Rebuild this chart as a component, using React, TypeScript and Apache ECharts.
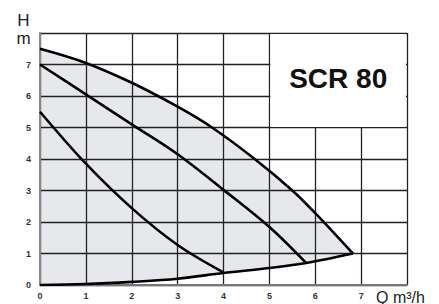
import React, { useEffect, useRef } from "react";
import * as echarts from "echarts";

// Flow Q (m³/h) sample points and heads H (m)
const topQ = [0, 1, 2, 3, 3.75, 4.68, 5.5, 6, 6.82];
const topH = [7.5, 7.05, 6.42, 5.66, 5.0, 4.0, 3.0, 2.28, 1.0];

const midQ = [0, 1, 2, 3, 4, 5, 5.8];
const midH = [7.0, 6.05, 5.1, 4.15, 3.02, 1.84, 0.7];

const lowQ = [0, 1, 2, 3, 4];
const lowH = [5.5, 3.85, 2.44, 1.27, 0.4];

const minQ = [0, 1, 2, 3, 4, 5, 5.8, 6.82];
const minH = [0, 0.03, 0.1, 0.2, 0.38, 0.54, 0.7, 1.0];

const xTicks = [0, 1, 2, 3, 4, 5, 6, 7];
const yTicks = [0, 1, 2, 3, 4, 5, 6, 7];

const title = "SCR 80";

export default function App() {
  const ref = useRef<HTMLDivElement>(null);
  useEffect(() => {
    if (!ref.current) return;
    const chart = echarts.init(ref.current, undefined, { renderer: "svg" });
    const gridLeft = 40, gridRight = 32, gridTop = 33, gridBottom = 19;
    const W = 439, H = 304;
    const pw = W - gridLeft - gridRight;
    const ph = H - gridTop - gridBottom;
    const ux = pw / 8, uy = ph / 8;
    const font = "'Liberation Sans', Arial, sans-serif";
    const pair = (xs: number[], ys: number[]) => xs.map((x, i) => [x, ys[i]]);
    const lineS = (name: string, xs: number[], ys: number[]) => ({
      name,
      type: "line",
      data: pair(xs, ys),
      smooth: 0.35,
      symbol: "none",
      lineStyle: { color: "#000", width: 2.6 },
      z: 6,
    });
    chart.setOption({
      animation: false,
      grid: { left: gridLeft, right: gridRight, top: gridTop, bottom: gridBottom },
      xAxis: {
        type: "value",
        min: 0,
        max: 8,
        interval: 1,
        z: 4,
        axisLine: { lineStyle: { color: "#777", width: 2 } },
        axisTick: { show: false },
        splitLine: { lineStyle: { color: "#222", width: 1.3 } },
        axisLabel: {
          margin: 6,
          fontSize: 9,
          fontWeight: "bold",
          color: "#333",
          fontFamily: font,
          formatter: (v: number) => (xTicks.includes(v) ? String(v) : ""),
        },
      },
      yAxis: {
        type: "value",
        min: 0,
        max: 8,
        interval: 1,
        z: 4,
        axisLine: { show: true, lineStyle: { color: "#888", width: 2 } },
        axisTick: { show: false },
        splitLine: { lineStyle: { color: "#222", width: 1.3 } },
        axisLabel: {
          margin: 9,
          fontSize: 9,
          fontWeight: "bold",
          color: "#333",
          fontFamily: font,
          formatter: (v: number) => (yTicks.includes(v) ? String(v) : ""),
        },
      },
      series: [
        {
          name: "bandTop",
          type: "line",
          data: pair(topQ, topH),
          smooth: 0.35,
          symbol: "none",
          lineStyle: { opacity: 0 },
          areaStyle: { color: "#e7e8eb", opacity: 1 },
          z: 1,
        },
        {
          name: "bandBottom",
          type: "line",
          data: pair(minQ, minH),
          smooth: 0.35,
          symbol: "none",
          lineStyle: { opacity: 0 },
          areaStyle: { color: "#ffffff", opacity: 1 },
          z: 1,
        },
        lineS("top", topQ, topH),
        lineS("mid", midQ, midH),
        lineS("low", lowQ, lowH),
        lineS("min", minQ, minH),
      ],
      graphic: [
        {
          type: "rect",
          z: 100,
          shape: {
            x: gridLeft + 5 * ux + 1,
            y: gridTop + 1,
            width: 3 * ux - 2,
            height: 3 * uy - 1.5,
          },
          style: { fill: "#fff" },
        },
        {
          type: "text",
          z: 101,
          x: gridLeft + 6.5 * ux,
          y: gridTop + 1.45 * uy,
          style: {
            text: title,
            fontSize: 28,
            fontWeight: "bold",
            fontFamily: font,
            fill: "#111",
            align: "center",
            verticalAlign: "middle",
          },
        },
        {
          type: "text",
          z: 101,
          x: 23.5,
          y: 29,
          style: {
            text: "H\nm",
            fontSize: 17,
            lineHeight: 18,
            fontFamily: font,
            fill: "#222",
            align: "center",
            verticalAlign: "middle",
          },
        },
        {
          type: "text",
          z: 101,
          x: 376,
          y: 297,
          style: {
            text: "Q m³/h",
            fontSize: 16,
            fontFamily: font,
            fill: "#222",
            align: "left",
            verticalAlign: "middle",
          },
        },
      ],
    });
    return () => chart.dispose();
  }, []);
  return <div ref={ref} style={{ width: 439, height: 304, position: "absolute", left: 0, top: 0 }} />;
}
